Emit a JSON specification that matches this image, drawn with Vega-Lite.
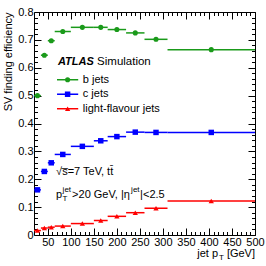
{
 "$schema": "https://vega.github.io/schema/vega-lite/v6.json",
 "width": 221, "height": 223,
 "autosize": {"type": "none"},
 "padding": {"left": 34, "top": 12, "right": 11, "bottom": 31},
 "background": "white",
 "config": {
  "view": {"stroke": "black", "strokeWidth": 1},
  "axis": {"domain": false, "grid": false, "tickColor": "black", "labelColor": "black", "labelFont": "Liberation Sans", "labelFontSize": 11, "titleFont": "Liberation Sans", "titleFontSize": 11, "titleFontWeight": "normal", "titleColor": "black", "labelFlush": false, "labelOverlap": false},
  "text": {"font": "Liberation Sans", "fontSize": 11, "color": "black"}
 },
 "datasets": {
  "eff": [
   {"flavour": "b", "lo": 20, "hi": 35, "pt": 27.5, "eff": 0.500},
   {"flavour": "b", "lo": 35, "hi": 50, "pt": 42.5, "eff": 0.645},
   {"flavour": "b", "lo": 50, "hi": 65, "pt": 57.5, "eff": 0.697},
   {"flavour": "b", "lo": 65, "hi": 100, "pt": 82.5, "eff": 0.730},
   {"flavour": "b", "lo": 100, "hi": 150, "pt": 125, "eff": 0.745},
   {"flavour": "b", "lo": 150, "hi": 180, "pt": 165, "eff": 0.745},
   {"flavour": "b", "lo": 180, "hi": 220, "pt": 200, "eff": 0.737},
   {"flavour": "b", "lo": 220, "hi": 260, "pt": 240, "eff": 0.725},
   {"flavour": "b", "lo": 260, "hi": 310, "pt": 285, "eff": 0.702},
   {"flavour": "b", "lo": 310, "hi": 500, "pt": 405, "eff": 0.665},
   {"flavour": "c", "lo": 20, "hi": 35, "pt": 27.5, "eff": 0.162},
   {"flavour": "c", "lo": 35, "hi": 50, "pt": 42.5, "eff": 0.228},
   {"flavour": "c", "lo": 50, "hi": 65, "pt": 57.5, "eff": 0.259},
   {"flavour": "c", "lo": 65, "hi": 100, "pt": 82.5, "eff": 0.289},
   {"flavour": "c", "lo": 100, "hi": 150, "pt": 125, "eff": 0.318},
   {"flavour": "c", "lo": 150, "hi": 180, "pt": 165, "eff": 0.338},
   {"flavour": "c", "lo": 180, "hi": 220, "pt": 200, "eff": 0.353},
   {"flavour": "c", "lo": 220, "hi": 260, "pt": 240, "eff": 0.369},
   {"flavour": "c", "lo": 260, "hi": 310, "pt": 285, "eff": 0.368},
   {"flavour": "c", "lo": 310, "hi": 500, "pt": 405, "eff": 0.368},
   {"flavour": "l", "lo": 20, "hi": 35, "pt": 27.5, "eff": 0.016},
   {"flavour": "l", "lo": 35, "hi": 50, "pt": 42.5, "eff": 0.025},
   {"flavour": "l", "lo": 50, "hi": 65, "pt": 57.5, "eff": 0.028},
   {"flavour": "l", "lo": 65, "hi": 100, "pt": 82.5, "eff": 0.032},
   {"flavour": "l", "lo": 100, "hi": 150, "pt": 125, "eff": 0.041},
   {"flavour": "l", "lo": 150, "hi": 180, "pt": 165, "eff": 0.052},
   {"flavour": "l", "lo": 180, "hi": 220, "pt": 200, "eff": 0.067},
   {"flavour": "l", "lo": 220, "hi": 260, "pt": 240, "eff": 0.080},
   {"flavour": "l", "lo": 260, "hi": 310, "pt": 285, "eff": 0.096},
   {"flavour": "l", "lo": 310, "hi": 500, "pt": 405, "eff": 0.122}
  ]
 },
 "data": {"name": "eff"},
 "resolve": {"axis": {"x": "independent", "y": "independent"}},
 "layer": [
  {
   "transform": [{"filter": "datum.flavour == 'b'"}],
   "mark": {"type": "rule", "color": "#1a9a1a", "strokeWidth": 1.5},
   "encoding": {
    "x": {"field": "lo", "type": "quantitative", "scale": {"domain": [20, 500], "nice": false, "zero": false},
     "axis": {"orient": "bottom", "values": [50, 100, 150, 200, 250, 300, 350, 400, 450, 500], "tickSize": -7, "labelPadding": 8, "title": null}},
    "x2": {"field": "hi"},
    "y": {"field": "eff", "type": "quantitative", "scale": {"domain": [0, 0.8], "nice": false, "zero": false},
     "axis": {"orient": "left", "values": [0, 0.1, 0.2, 0.3, 0.4, 0.5, 0.6, 0.7, 0.8], "tickSize": -7, "labelPadding": 8, "labelExpr": "datum.value == 0 ? '0' : format(datum.value, '.1f')", "title": "SV finding efficiency", "titleAnchor": "end", "titleX": -26, "titleBaseline": "middle"}}
   }
  },
  {
   "transform": [{"filter": "datum.flavour == 'b'"}],
   "mark": {"type": "point", "shape": "circle", "filled": true, "size": 26, "color": "#1a9a1a", "opacity": 1},
   "encoding": {
    "x": {"field": "pt", "type": "quantitative", "scale": {"domain": [20, 500], "nice": false, "zero": false},
     "axis": {"orient": "bottom", "values": [30, 40, 60, 70, 80, 90, 110, 120, 130, 140, 160, 170, 180, 190, 210, 220, 230, 240, 260, 270, 280, 290, 310, 320, 330, 340, 360, 370, 380, 390, 410, 420, 430, 440, 460, 470, 480, 490], "tickSize": -3.5, "labels": false, "title": null}},
    "y": {"field": "eff", "type": "quantitative", "scale": {"domain": [0, 0.8], "nice": false, "zero": false},
     "axis": {"orient": "left", "values": [0.02, 0.04, 0.06, 0.08, 0.12, 0.14, 0.16, 0.18, 0.22, 0.24, 0.26, 0.28, 0.32, 0.34, 0.36, 0.38, 0.42, 0.44, 0.46, 0.48, 0.52, 0.54, 0.56, 0.58, 0.62, 0.64, 0.66, 0.68, 0.72, 0.74, 0.76, 0.78], "tickSize": -3.5, "labels": false, "title": null}}
   }
  },
  {
   "transform": [{"filter": "datum.flavour == 'c'"}],
   "mark": {"type": "rule", "color": "#0000ff", "strokeWidth": 1.5},
   "encoding": {
    "x": {"field": "lo", "type": "quantitative", "scale": {"domain": [20, 500], "nice": false, "zero": false},
     "axis": {"orient": "top", "values": [50, 100, 150, 200, 250, 300, 350, 400, 450, 500], "tickSize": -7, "labels": false, "title": null}},
    "x2": {"field": "hi"},
    "y": {"field": "eff", "type": "quantitative", "scale": {"domain": [0, 0.8], "nice": false, "zero": false},
     "axis": {"orient": "right", "values": [0, 0.1, 0.2, 0.3, 0.4, 0.5, 0.6, 0.7, 0.8], "tickSize": -7, "labels": false, "title": null}}
   }
  },
  {
   "transform": [{"filter": "datum.flavour == 'c'"}],
   "mark": {"type": "point", "shape": "square", "filled": true, "size": 30, "color": "#0000ff", "opacity": 1},
   "encoding": {
    "x": {"field": "pt", "type": "quantitative", "scale": {"domain": [20, 500], "nice": false, "zero": false},
     "axis": {"orient": "top", "values": [30, 40, 60, 70, 80, 90, 110, 120, 130, 140, 160, 170, 180, 190, 210, 220, 230, 240, 260, 270, 280, 290, 310, 320, 330, 340, 360, 370, 380, 390, 410, 420, 430, 440, 460, 470, 480, 490], "tickSize": -3.5, "labels": false, "title": null}},
    "y": {"field": "eff", "type": "quantitative", "scale": {"domain": [0, 0.8], "nice": false, "zero": false},
     "axis": {"orient": "right", "values": [0.02, 0.04, 0.06, 0.08, 0.12, 0.14, 0.16, 0.18, 0.22, 0.24, 0.26, 0.28, 0.32, 0.34, 0.36, 0.38, 0.42, 0.44, 0.46, 0.48, 0.52, 0.54, 0.56, 0.58, 0.62, 0.64, 0.66, 0.68, 0.72, 0.74, 0.76, 0.78], "tickSize": -3.5, "labels": false, "title": null}}
   }
  },
  {
   "transform": [{"filter": "datum.flavour == 'l'"}],
   "mark": {"type": "rule", "color": "#ff0000", "strokeWidth": 1.5},
   "encoding": {
    "x": {"field": "lo", "type": "quantitative", "scale": {"domain": [20, 500], "nice": false, "zero": false}, "axis": null},
    "x2": {"field": "hi"},
    "y": {"field": "eff", "type": "quantitative", "scale": {"domain": [0, 0.8], "nice": false, "zero": false}, "axis": null}
   }
  },
  {
   "transform": [{"filter": "datum.flavour == 'l'"}],
   "mark": {"type": "point", "shape": "triangle-up", "filled": true, "size": 28, "color": "#ff0000", "opacity": 1},
   "encoding": {
    "x": {"field": "pt", "type": "quantitative", "scale": {"domain": [20, 500], "nice": false, "zero": false}, "axis": null},
    "y": {"field": "eff", "type": "quantitative", "scale": {"domain": [0, 0.8], "nice": false, "zero": false}, "axis": null}
   }
  },
  {
   "data": {"values": [{"label": "b jets"}]},
   "layer": [
    {"mark": {"type": "rule", "color": "#1a9a1a", "strokeWidth": 1.5},
     "encoding": {"x": {"datum": 70, "type": "quantitative", "scale": {"domain": [20, 500], "nice": false, "zero": false}, "axis": null}, "x2": {"datum": 116}, "y": {"datum": 0.557, "type": "quantitative", "scale": {"domain": [0, 0.8], "nice": false, "zero": false}, "axis": null}}},
    {"mark": {"type": "point", "shape": "circle", "filled": true, "size": 26, "color": "#1a9a1a", "opacity": 1},
     "encoding": {"x": {"datum": 93, "type": "quantitative", "scale": {"domain": [20, 500], "nice": false, "zero": false}, "axis": null}, "y": {"datum": 0.557, "type": "quantitative", "scale": {"domain": [0, 0.8], "nice": false, "zero": false}, "axis": null}}},
    {"mark": {"type": "text", "align": "left", "baseline": "middle"},
     "encoding": {"text": {"field": "label"}, "x": {"datum": 126, "type": "quantitative", "scale": {"domain": [20, 500], "nice": false, "zero": false}, "axis": null}, "y": {"datum": 0.557, "type": "quantitative", "scale": {"domain": [0, 0.8], "nice": false, "zero": false}, "axis": null}}}
   ]
  },
  {
   "data": {"values": [{"label": "c jets"}]},
   "layer": [
    {"mark": {"type": "rule", "color": "#0000ff", "strokeWidth": 1.5},
     "encoding": {"x": {"datum": 70, "type": "quantitative", "scale": {"domain": [20, 500], "nice": false, "zero": false}, "axis": null}, "x2": {"datum": 116}, "y": {"datum": 0.505, "type": "quantitative", "scale": {"domain": [0, 0.8], "nice": false, "zero": false}, "axis": null}}},
    {"mark": {"type": "point", "shape": "square", "filled": true, "size": 30, "color": "#0000ff", "opacity": 1},
     "encoding": {"x": {"datum": 93, "type": "quantitative", "scale": {"domain": [20, 500], "nice": false, "zero": false}, "axis": null}, "y": {"datum": 0.505, "type": "quantitative", "scale": {"domain": [0, 0.8], "nice": false, "zero": false}, "axis": null}}},
    {"mark": {"type": "text", "align": "left", "baseline": "middle"},
     "encoding": {"text": {"field": "label"}, "x": {"datum": 126, "type": "quantitative", "scale": {"domain": [20, 500], "nice": false, "zero": false}, "axis": null}, "y": {"datum": 0.505, "type": "quantitative", "scale": {"domain": [0, 0.8], "nice": false, "zero": false}, "axis": null}}}
   ]
  },
  {
   "data": {"values": [{"label": "light-flavour jets"}]},
   "layer": [
    {"mark": {"type": "rule", "color": "#ff0000", "strokeWidth": 1.5},
     "encoding": {"x": {"datum": 70, "type": "quantitative", "scale": {"domain": [20, 500], "nice": false, "zero": false}, "axis": null}, "x2": {"datum": 116}, "y": {"datum": 0.453, "type": "quantitative", "scale": {"domain": [0, 0.8], "nice": false, "zero": false}, "axis": null}}},
    {"mark": {"type": "point", "shape": "triangle-up", "filled": true, "size": 28, "color": "#ff0000", "opacity": 1},
     "encoding": {"x": {"datum": 93, "type": "quantitative", "scale": {"domain": [20, 500], "nice": false, "zero": false}, "axis": null}, "y": {"datum": 0.453, "type": "quantitative", "scale": {"domain": [0, 0.8], "nice": false, "zero": false}, "axis": null}}},
    {"mark": {"type": "text", "align": "left", "baseline": "middle"},
     "encoding": {"text": {"field": "label"}, "x": {"datum": 126, "type": "quantitative", "scale": {"domain": [20, 500], "nice": false, "zero": false}, "axis": null}, "y": {"datum": 0.453, "type": "quantitative", "scale": {"domain": [0, 0.8], "nice": false, "zero": false}, "axis": null}}}
   ]
  },
  {
   "data": {"values": [{"a": "ATLAS", "b": "Simulation"}]},
   "encoding": {"y": {"datum": 0.621, "type": "quantitative", "scale": {"domain": [0, 0.8], "nice": false, "zero": false}, "axis": null}},
   "layer": [
    {"mark": {"type": "text", "align": "left", "baseline": "middle", "fontStyle": "italic", "fontWeight": "bold", "fontSize": 11},
     "encoding": {"text": {"field": "a"}, "x": {"datum": 72, "type": "quantitative", "scale": {"domain": [20, 500], "nice": false, "zero": false}, "axis": null}}},
    {"mark": {"type": "text", "align": "left", "baseline": "middle", "fontSize": 11.5},
     "encoding": {"text": {"field": "b"}, "x": {"datum": 157, "type": "quantitative", "scale": {"domain": [20, 500], "nice": false, "zero": false}, "axis": null}}}
   ]
  },
  {
   "data": {"values": [{"t": "√s̅=7 TeV, tt̄"}]},
   "mark": {"type": "text", "align": "left", "baseline": "middle"},
   "encoding": {"text": {"field": "t"}, "x": {"datum": 68, "type": "quantitative", "scale": {"domain": [20, 500], "nice": false, "zero": false}, "axis": null}, "y": {"datum": 0.227, "type": "quantitative", "scale": {"domain": [0, 0.8], "nice": false, "zero": false}, "axis": null}}
  },
  {
   "data": {"values": [{"p": "p", "sub": "T", "sup": "jet", "mid": ">20 GeV, |η", "end": "|<2.5"}]},
   "encoding": {"x": {"datum": 68, "type": "quantitative", "scale": {"domain": [20, 500], "nice": false, "zero": false}, "axis": null}, "y": {"datum": 0.145, "type": "quantitative", "scale": {"domain": [0, 0.8], "nice": false, "zero": false}, "axis": null}},
   "layer": [
    {"mark": {"type": "text", "align": "left", "baseline": "middle"}, "encoding": {"text": {"field": "p"}}},
    {"mark": {"type": "text", "align": "left", "baseline": "middle", "fontSize": 8, "dx": 6.5, "dy": 4}, "encoding": {"text": {"field": "sub"}}},
    {"mark": {"type": "text", "align": "left", "baseline": "middle", "fontSize": 8, "dx": 6.5, "dy": -5}, "encoding": {"text": {"field": "sup"}}},
    {"mark": {"type": "text", "align": "left", "baseline": "middle", "dx": 16}, "encoding": {"text": {"field": "mid"}}},
    {"mark": {"type": "text", "align": "left", "baseline": "middle", "fontSize": 8, "dx": 75, "dy": -5}, "encoding": {"text": {"field": "sup"}}},
    {"mark": {"type": "text", "align": "left", "baseline": "middle", "dx": 84}, "encoding": {"text": {"field": "end"}}}
   ]
  },
  {
   "data": {"values": [{"a": "jet p", "b": "T", "c": "[GeV]"}]},
   "encoding": {"x": {"datum": 500, "type": "quantitative", "scale": {"domain": [20, 500], "nice": false, "zero": false}, "axis": null}, "y": {"datum": -0.067, "type": "quantitative", "scale": {"domain": [0, 0.8], "nice": false, "zero": false}, "axis": null}},
   "layer": [
    {"mark": {"type": "text", "align": "right", "baseline": "middle"}, "encoding": {"text": {"field": "c"}}},
    {"mark": {"type": "text", "align": "right", "baseline": "middle", "fontSize": 8, "dx": -31, "dy": 4}, "encoding": {"text": {"field": "b"}}},
    {"mark": {"type": "text", "align": "right", "baseline": "middle", "dx": -37}, "encoding": {"text": {"field": "a"}}}
   ]
  }
 ]
}
